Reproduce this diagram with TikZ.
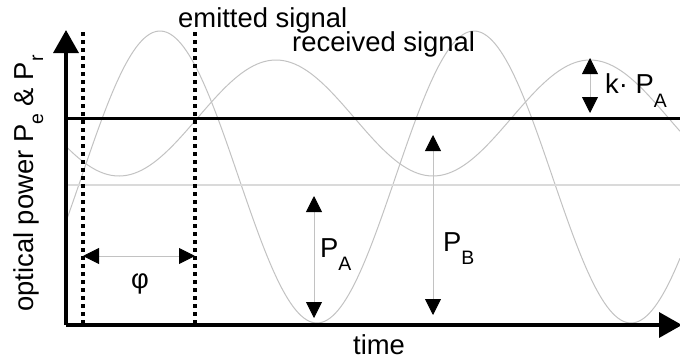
\documentclass[tikz,border=0pt]{standalone}
\usepackage{fontspec}
\setmainfont{Liberation Sans}
\usetikzlibrary{arrows.meta}
\definecolor{cInk}{HTML}{000000}
\definecolor{cWave}{HTML}{C2C2C2}
\definecolor{cMean}{HTML}{DADADA}
\newcommand{\subfont}{\fontsize{19.5}{20}\selectfont}
\newcommand{\psub}[2][13bp]{P\raisebox{-#1}{\subfont #2}}
\tikzset{
  axis/.style={draw=cInk, line width=3.5bp, -{Triangle[length=23bp, width=25bp]}},
  level/.style={draw=cInk, line width=3.5bp},
  meanline/.style={draw=cMean, line width=2bp},
  wave/.style={draw=cWave, line width=1bp},
  marker/.style={draw=cInk, line width=4bp, dash pattern=on 4bp off 4bp},
  dim/.style={draw=cWave, line width=0.9bp,
              {Triangle[length=16bp, width=16bp, color=cInk]}-{Triangle[length=16bp, width=16bp, color=cInk]}},
  lab/.style={font=\fontsize{27.5}{30}\selectfont, text=cInk, inner sep=0pt},
}

\begin{document}
\begin{tikzpicture}[x=1bp, y=-1bp]
  \useasboundingbox (0,0) rectangle (680,362);

  % ---- signals (period 314 px, 1.1465 deg per px)
  \draw[wave] plot[domain=66:680, samples=220] (\x, {177-146*cos((\x-160)*1.1465)});
  \draw[wave] plot[domain=66:680, samples=220] (\x, {118-58*cos((\x-276)*1.1465)});

  % ---- reference points
  \coordinate (O) at (66,325);
  \coordinate (ytip) at (66,30);
  \coordinate (xtip) at (682,325);
  \coordinate (lvlL) at (66,118.5);
  \coordinate (lvlR) at (680,118.5);
  \coordinate (meanL) at (66,184.5);
  \coordinate (meanR) at (680,184.5);
  \coordinate (m1t) at (83,32);   \coordinate (m1b) at (83,325);
  \coordinate (m2t) at (195,32);  \coordinate (m2b) at (195,325);
  \coordinate (phiL) at (83,256); \coordinate (phiR) at (195,256);
  \coordinate (paT) at (314,196); \coordinate (paB) at (314,318);
  \coordinate (pbT) at (433,135); \coordinate (pbB) at (433,315);
  \coordinate (kT) at (590,58);   \coordinate (kB) at (590,113);

  % ---- levels and axes
  \draw[meanline] (meanL) -- (meanR);
  \draw[level] (lvlL) -- (lvlR);
  \foreach \i in {1,2}
    \draw[marker] (m\i t) -- (m\i b);
  \draw[axis] (O) -- (ytip);
  \draw[axis] (O) -- (xtip);

  % ---- amplitudes and phase
  \draw[dim] (phiL) -- (phiR);
  \draw[dim] (paT) -- (paB);
  \draw[dim] (pbT) -- (pbB);
  \draw[dim] (kT) -- (kB);

  % ---- labels
  \node[lab, anchor=base west] (lEmit) at (178,27) {emitted signal};
  \node[lab, anchor=base west] (lRecv) at (292,51) {received signal};
  \node[lab, anchor=base west] (lkPA) at (605,93) {k· \psub[14bp]{A}};
  \node[lab, anchor=base west] (lPA) at (320,257) {\psub{A}};
  \node[lab, anchor=base west] (lPB) at (443,251) {\psub{B}};
  \node[lab] (lPhi) at (140,284) {φ};
  \node[lab, anchor=base west] (lTime) at (353,354) {time};
  \node[lab, anchor=base west, rotate=90] (lPower) at (33,312)
       {optical power \psub[10bp]{e} \& \psub[10bp]{r}};
\end{tikzpicture}
\end{document}
